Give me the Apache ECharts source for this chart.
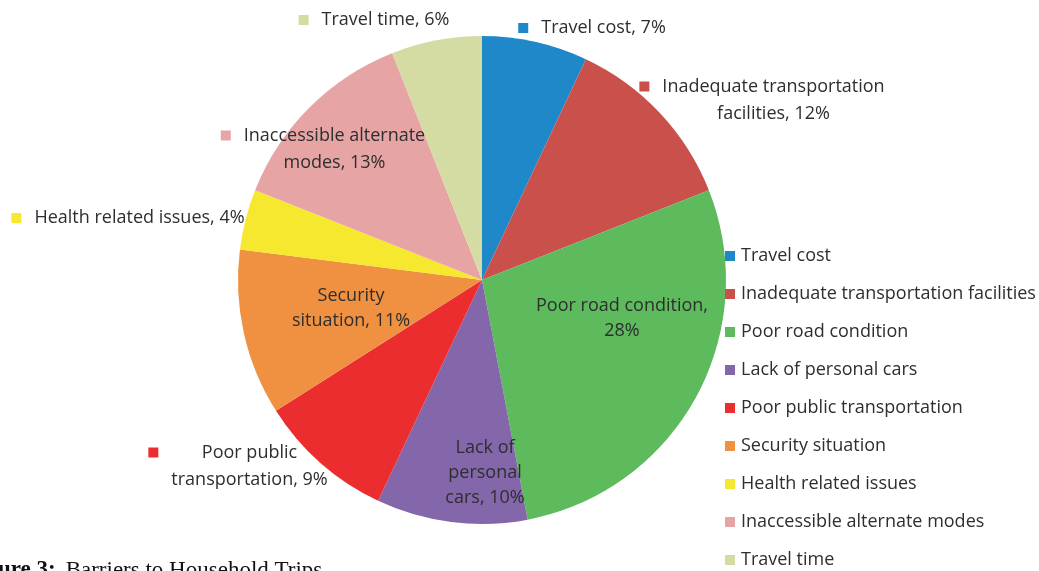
<!DOCTYPE html>
<html>
<head>
<meta charset="utf-8">
<script src="https://cdn.jsdelivr.net/npm/echarts@6/dist/echarts.min.js"></script>
<style>
  html, body { margin: 0; padding: 0; background: #fff; }
  #chart { width: 1039px; height: 571px; }
</style>
</head>
<body>
<div id="chart"></div>
<script>
// Barriers to household trips, share of respondents (%)
const categories = [
  'Travel cost',
  'Inadequate transportation facilities',
  'Poor road condition',
  'Lack of personal cars',
  'Poor public transportation',
  'Security situation',
  'Health related issues',
  'Inaccessible alternate modes',
  'Travel time'
];
const shares = [7, 12, 28, 10, 9, 11, 4, 13, 6];
const sliceColors = [
  '#1f88c9', '#ca504c', '#5dbb5d', '#8466ab', '#ec2d30',
  '#ef9141', '#f6e82e', '#e6a4a4', '#d4dca3'
];

// Word positions where each slice label wraps onto a new line
const labelBreaks = [[], [2], [3], [2, 3], [2], [1], [], [2], []];
// Labels drawn on top of their own slice carry no colour key
const insideLabel = [false, false, true, true, false, true, false, false, false];
// Centre point of every label block
const labelSpots = [
  [592, 28], [762, 100], [622, 318], [485, 473], [238, 466],
  [351, 308], [128, 218], [323, 149], [374, 20]
];

const FONT = 'Open Sans';
const SIZE = 18;
const TEXT = '#2e2e2e';

function labelLines(i) {
  const words = (categories[i] + ', ' + shares[i] + '%').split(' ');
  const lines = [];
  let cur = [];
  words.forEach((w, k) => {
    if (labelBreaks[i].indexOf(k) !== -1) { lines.push(cur.join(' ')); cur = []; }
    cur.push(w);
  });
  lines.push(cur.join(' '));
  return lines;
}

const data = categories.map((name, i) => {
  const lines = labelLines(i);
  let text;
  if (insideLabel[i]) {
    text = lines.map(l => '{t|' + l + '}').join('\n');
  } else {
    text = lines.map((l, k) => (k === 0 ? '{k|}{g|}' : '{s|}') + '{t|' + l + '}').join('\n');
  }
  return {
    name: name,
    value: shares[i],
    itemStyle: { color: sliceColors[i] },
    label: {
      formatter: text,
      rich: {
        k: { backgroundColor: sliceColors[i], width: 10, height: 10, align: 'left' },
        g: { width: 13, height: 10, align: 'left' },
        s: { width: 23, height: 10, align: 'left' },
        t: {
          fontFamily: FONT, fontSize: SIZE, color: TEXT,
          lineHeight: insideLabel[i] ? 25 : 27, align: 'center'
        }
      }
    }
  };
});

const chart = echarts.init(document.getElementById('chart'), null, { renderer: 'canvas' });
chart.setOption({
  animation: false,
  backgroundColor: '#ffffff',
  legend: {
    orient: 'vertical',
    left: 720,
    top: 241,
    height: 360,
    icon: 'rect',
    itemWidth: 10,
    itemHeight: 10,
    itemGap: 18,
    data: categories,
    textStyle: { fontFamily: FONT, fontSize: SIZE, color: TEXT, lineHeight: 20, padding: [0, 0, 0, 1] },
    selectedMode: false
  },
  graphic: [{
    type: 'text',
    left: -34,
    top: 559,
    style: {
      rich: {
        b: { fontFamily: 'Liberation Serif', fontSize: 23, fontWeight: 'bold', fill: '#111' },
        g: { width: 10 },
        r: { fontFamily: 'Liberation Serif', fontSize: 23, fill: '#111' }
      },
      text: '{b|Figure 3:}{g|}{r|Barriers to Household Trips}'
    }
  }],
  series: [{
    type: 'pie',
    center: [482, 280],
    radius: 244,
    startAngle: 90,
    clockwise: true,
    avoidLabelOverlap: false,
    emphasis: { disabled: true },
    label: { show: true, position: 'inside', color: TEXT, fontFamily: FONT, fontSize: SIZE },
    labelLine: { show: false },
    labelLayout: function (p) {
      const s = labelSpots[p.dataIndex];
      return { x: s[0], y: s[1], align: 'center', verticalAlign: 'middle' };
    },
    data: data
  }]
});
</script>
</body>
</html>
